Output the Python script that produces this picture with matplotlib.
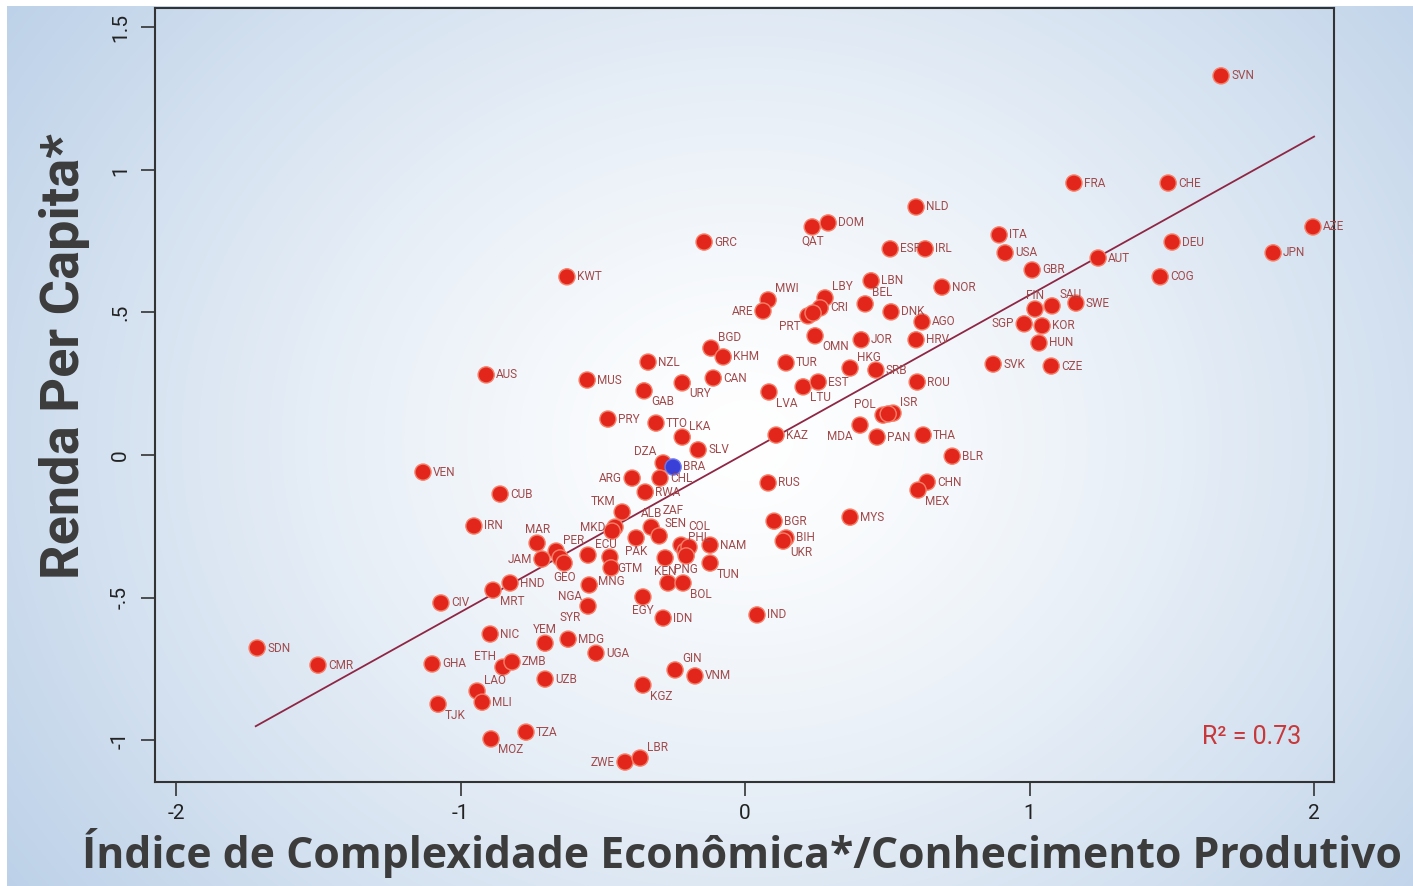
# ----------------------------------------------------------------------------------------------------------------------
# IMPORT GENERAL PACKAGES
# ----------------------------------------------------------------------------------------------------------------------

import numpy as np
import matplotlib
matplotlib.use('Agg')
import matplotlib.pyplot as plt
from matplotlib import font_manager

# ----------------------------------------------------------------------------------------------------------------------
# DATA
# ----------------------------------------------------------------------------------------------------------------------

codes = ['SVN', 'FRA', 'CHE', 'NLD', 'QAT', 'DOM', 'GRC', 'KWT', 'ESP', 'IRL',
         'ITA', 'USA', 'AUT', 'DEU', 'AZE', 'JPN', 'COG', 'GBR', 'LBN', 'NOR',
         'MWI', 'ARE', 'LBY', 'CRI', 'PRT', '', 'BEL', 'DNK', 'AGO', 'HRV',
         'JOR', 'OMN', 'BGD', 'KHM', 'NZL', 'MUS', 'CAN', 'GAB', 'URY', 'TUR',
         'LVA', 'LTU', 'EST', 'HKG', 'SRB', 'ROU', 'POL', 'ISR', '', 'MDA',
         'PAN', 'THA', 'BLR', 'KAZ', 'AUS', 'PRY', 'TTO', 'LKA', 'SLV', 'DZA',
         'BRA', 'CHL', 'ARG', 'RWA', 'TKM', 'MKD', '', 'ALB', 'ZAF', 'SEN',
         'COL', 'PHL', 'NAM', 'TUN', 'KEN', 'PNG', '', 'BOL', 'PAK', 'ECU',
         'GTM', 'MNG', 'MAR', 'PER', 'JAM', '', 'GEO', 'HND', 'NGA', 'SYR',
         'MRT', 'CIV', 'EGY', 'IDN', 'IND', 'NIC', 'YEM', 'MDG', 'UGA', 'GHA',
         'ETH', 'ZMB', 'UZB', 'LAO', 'MLI', 'TJK', 'TZA', 'MOZ', 'ZWE', 'LBR',
         'KGZ', 'GIN', 'VNM', 'SDN', 'CMR', 'VEN', 'CUB', 'IRN', 'RUS', 'BGR',
         'BIH', 'UKR', 'MYS', 'CHN', 'MEX', 'FIN', 'SAU', 'SWE', 'SGP', 'KOR',
         'HUN', 'SVK', 'CZE']

eci = [1.673, 1.156, 1.487, 0.601, 0.236, 0.292, -0.144, -0.626, 0.510, 0.633,
       0.893, 0.914, 1.241, 1.501, 1.996, 1.856, 1.459, 1.009, 0.443, 0.692,
       0.081, 0.063, 0.281, 0.264, 0.221, 0.239, 0.422, 0.513, 0.622, 0.601,
       0.408, 0.246, -0.120, -0.077, -0.341, -0.555, -0.112, -0.355, -0.221, 0.144,
       0.084, 0.204, 0.257, 0.369, 0.460, 0.605, 0.485, 0.520, 0.503, 0.404,
       0.464, 0.626, 0.728, 0.109, -0.910, -0.482, -0.313, -0.221, -0.165, -0.288,
       -0.253, -0.299, -0.397, -0.351, -0.432, -0.457, -0.467, -0.330, -0.302, -0.225,
       -0.211, -0.197, -0.123, -0.123, -0.281, -0.207, -0.271, -0.218, -0.383, -0.552,
       -0.475, -0.471, -0.731, -0.664, -0.714, -0.650, -0.636, -0.826, -0.548, -0.552,
       -0.886, -1.069, -0.359, -0.288, 0.042, -0.896, -0.703, -0.622, -0.524, -1.100,
       -0.851, -0.819, -0.703, -0.942, -0.924, -1.079, -0.770, -0.893, -0.422, -0.369,
       -0.359, -0.246, -0.176, -1.715, -1.501, -1.132, -0.861, -0.953, 0.081, 0.102,
       0.144, 0.134, 0.369, 0.640, 0.608, 1.019, 1.079, 1.163, 0.981, 1.044,
       1.033, 0.872, 1.076]

gdp = [1.330, 0.954, 0.954, 0.870, 0.800, 0.814, 0.747, 0.625, 0.723, 0.723,
       0.772, 0.709, 0.691, 0.747, 0.800, 0.709, 0.625, 0.649, 0.611, 0.589,
       0.544, 0.505, 0.551, 0.516, 0.488, 0.498, 0.530, 0.502, 0.467, 0.404,
       0.404, 0.418, 0.375, 0.344, 0.326, 0.263, 0.270, 0.225, 0.253, 0.323,
       0.221, 0.239, 0.256, 0.305, 0.298, 0.256, 0.140, 0.147, 0.144, 0.105,
       0.063, 0.070, -0.004, 0.070, 0.281, 0.126, 0.112, 0.063, 0.018, -0.028,
       -0.042, -0.081, -0.081, -0.130, -0.200, -0.253, -0.267, -0.253, -0.284, -0.316,
       -0.337, -0.323, -0.316, -0.379, -0.361, -0.354, -0.449, -0.449, -0.291, -0.351,
       -0.358, -0.396, -0.309, -0.337, -0.365, -0.361, -0.379, -0.449, -0.456, -0.530,
       -0.474, -0.519, -0.498, -0.572, -0.561, -0.628, -0.660, -0.646, -0.695, -0.733,
       -0.744, -0.726, -0.786, -0.828, -0.867, -0.874, -0.972, -0.996, -1.077, -1.063,
       -0.807, -0.754, -0.775, -0.677, -0.737, -0.060, -0.137, -0.249, -0.098, -0.232,
       -0.291, -0.302, -0.218, -0.095, -0.123, 0.512, 0.523, 0.533, 0.460, 0.453,
       0.393, 0.319, 0.312]

# label position around each marker (clock position, as in Stata mlabposition;
# 13-15 are the crowded labels placed higher up)
lab_pos = [3, 3, 3, 3, 6, 3, 3, 3, 3, 3,
           3, 3, 3, 3, 3, 3, 3, 3, 3, 3,
           1, 9, 1, 3, 7, 0, 1, 3, 3, 3,
           3, 5, 1, 3, 3, 3, 3, 5, 5, 3,
           5, 5, 3, 1, 3, 3, 11, 1, 0, 7,
           3, 3, 3, 3, 3, 3, 3, 1, 3, 11,
           3, 3, 9, 3, 11, 9, 0, 12, 13, 14,
           13, 15, 3, 5, 6, 6, 0, 5, 6, 1,
           5, 6, 12, 1, 9, 0, 6, 3, 7, 7,
           5, 3, 6, 3, 3, 3, 12, 3, 3, 3,
           11, 3, 3, 1, 3, 5, 3, 5, 9, 1,
           5, 1, 3, 3, 3, 3, 3, 3, 3, 3,
           3, 5, 3, 3, 5, 12, 1, 3, 9, 3,
           3, 3, 3]

highlight = 'BRA'

# fitted line
fit_slope = 0.556
fit_intercept = 0.005
fit_range = [-1.72, 2.0]
r2 = 0.73

yticks = [-1, -0.5, 0, 0.5, 1, 1.5]
yticklabels = ['-1', '-.5', '0', '.5', '1', '1.5']
xticks = [-2, -1, 0, 1, 2]
xticklabels = ['-2', '-1', '0', '1', '2']

# ----------------------------------------------------------------------------------------------------------------------
# FONTS
# ----------------------------------------------------------------------------------------------------------------------

names = {f.name for f in font_manager.fontManager.ttflist}
narrow = 'Roboto' if 'Roboto' in names else 'Liberation Sans'
title_font = 'Open Sans' if 'Open Sans' in names else 'DejaVu Sans'

# ----------------------------------------------------------------------------------------------------------------------
# PLOT
# ----------------------------------------------------------------------------------------------------------------------

W, H = 1413, 886
fig = plt.figure(figsize=(W / 100, H / 100), dpi=100)

# radial gradient background
bg = fig.add_axes([0, 0, 1, 1], zorder=-10)
yy, xx = np.mgrid[0:H, 0:W]
d = np.sqrt(((xx - 745) / 1.0) ** 2 + ((yy - 440) / 0.85) ** 2)
t = np.clip(d / 900.0, 0, 1) ** 1.3
edge = np.array([0.74, 0.82, 0.91])
img = (1 - t)[..., None] * np.ones(3) + t[..., None] * edge
img[:6, :, :] = 1.0
img[:, :7, :] = 1.0
bg.imshow(img, aspect='auto', interpolation='bilinear')
bg.axis('off')

ax = fig.add_axes([155 / W, 1 - 782 / H, (1334 - 155) / W, (782 - 8) / H])
ax.set_facecolor('none')

# fitted line
fx = np.array(fit_range)
ax.plot(fx, fit_intercept + fit_slope * fx, color='#8e2644', lw=1.3, zorder=2)

# points
cols = ['#3a3fd8' if c == highlight else '#e3261b' for c in codes]
edges = ['#6f78f0' if c == highlight else '#f5806a' for c in codes]
ax.scatter(eci, gdp, s=135, c=cols, edgecolors=edges, linewidths=1.0, zorder=3)

# labels
offs = {3: (10, 0, 'left'), 9: (-10, 0, 'right'), 12: (0, 14, 'center'), 6: (0, -14, 'center'),
        1: (7, 11, 'left'), 5: (7, -11, 'left'), 7: (-7, -11, 'right'), 11: (-7, 11, 'right'),
        13: (3, 25, 'left'), 14: (-6, 22, 'center'), 15: (-1, 10, 'left')}
for c, x, y, p in zip(codes, eci, gdp, lab_pos):
    if p == 0 or c == '':
        continue
    dx, dy, ha = offs[p]
    ax.annotate(c, (x, y), xytext=(dx, dy), textcoords='offset pixels', ha=ha, va='center',
                fontsize=8.5, family=narrow, color='#a04a4c', zorder=4)

ax.text(1.782, -0.989, 'R\u00b2 = {:.2f}'.format(r2), ha='center', va='center',
        fontsize=18, family=narrow, color='#c8383a')

ax.set_xlim(-2.074, 2.070)
ax.set_ylim(-1.147, 1.568)
ax.set_xticks(xticks)
ax.set_xticklabels(xticklabels, family=narrow, fontsize=15, color='#222222')
ax.set_yticks(yticks)
ax.set_yticklabels(yticklabels, family=narrow, fontsize=15, color='#222222', rotation=90, va='center')
ax.tick_params(axis='both', length=10, width=1.2, color='#333333')
ax.tick_params(axis='y', pad=8)
ax.tick_params(axis='x', pad=6)
for s in ax.spines.values():
    s.set_color('#333333')
    s.set_linewidth(1.5)

fig.text(65 / W, 1 - 356 / H, 'Renda Per Capita*', rotation=90, ha='center', va='center',
         family=narrow, fontweight='bold', fontsize=39, color='#3c3c3c')
fig.text(742 / W, 1 - 853 / H, '\u00cdndice de Complexidade Econ\u00f4mica*/Conhecimento Produtivo',
         ha='center', va='center', family=title_font, fontweight='bold', fontsize=30.8, color='#3c3c3c')

plt.savefig('out.png', dpi=100)
